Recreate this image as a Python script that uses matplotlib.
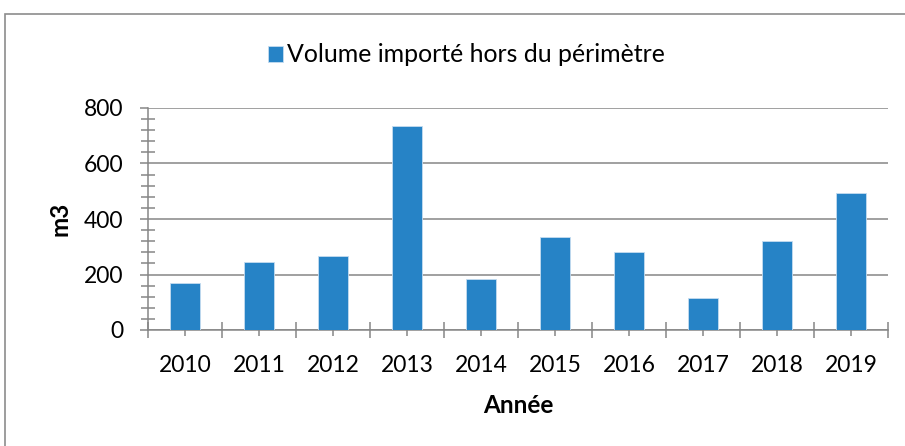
import matplotlib
matplotlib.use("Agg")
import matplotlib.pyplot as plt
from matplotlib.patches import Rectangle
from matplotlib.ticker import MultipleLocator, FixedLocator

# Chart data
years = ["2010", "2011", "2012", "2013", "2014", "2015", "2016", "2017", "2018", "2019"]
volumes = [168, 245, 267, 734, 183, 335, 282, 114, 320, 492]
series_label = "Volume importé hors du périmètre"
x_label = "Année"
y_label = "m3"

plt.rcParams["font.family"] = ["Lato", "DejaVu Sans"]
axis_grey = "#868686"
bar_blue = "#2683C6"

fig = plt.figure(figsize=(9.05, 4.46), dpi=100)
ax = fig.add_axes([148 / 905, 1 - 330 / 446, 740 / 905, 222 / 446])

x = range(len(years))
ax.bar(x, volumes, width=0.4, color=bar_blue, edgecolor="#c5dcf0", linewidth=0.6,
       label=series_label, zorder=3)

ax.set_xlim(-0.5, len(years) - 0.5)
ax.set_ylim(0, 800)

# y axis: major every 200 with gridlines, minor every 40
ax.yaxis.set_major_locator(MultipleLocator(200))
ax.yaxis.set_minor_locator(MultipleLocator(40))
ax.grid(axis="y", color=axis_grey, linewidth=1.1, zorder=0)
ax.tick_params(axis="y", which="major", direction="out", length=5.8, width=1.1,
               color=axis_grey, pad=12, labelsize=16.5)
ax.tick_params(axis="y", which="minor", direction="inout", length=10, width=1.1,
               color=axis_grey)

# x axis: labels at centres, boundary ticks between categories
ax.set_xticks(list(x))
ax.set_xticklabels(years)
ax.xaxis.set_minor_locator(FixedLocator([i - 0.5 for i in range(len(years) + 1)]))
ax.tick_params(axis="x", which="major", direction="inout", length=8.6, width=1.1,
               color=axis_grey, pad=13.5, labelsize=16.5)
ax.tick_params(axis="x", which="minor", direction="inout", length=12, width=1.1,
               color=axis_grey)

for side in ["top", "right"]:
    ax.spines[side].set_visible(False)
for side in ["left", "bottom"]:
    ax.spines[side].set_color(axis_grey)
    ax.spines[side].set_linewidth(1.1)

# axis titles placed on their baselines
ax.set_xlabel(x_label, fontsize=17.5, fontweight="bold", va="baseline")
ax.xaxis.set_label_coords(0.5, (330 - 413) / 222)
ax.set_ylabel(y_label, fontsize=17.5, fontweight="bold", va="baseline")
ax.yaxis.set_label_coords((67 - 148) / 740, 0.5)

fig.legend(loc="center left", bbox_to_anchor=(268 / 905, 1 - 55 / 446), frameon=False,
           fontsize=17.9, handlelength=0.6, handleheight=0.6, handletextpad=0.15,
           borderpad=0, borderaxespad=0)

# outer chart border (clipped at right and bottom)
fig.add_artist(Rectangle((5 / 905, -0.1), 2.0, 1.1 - 14 / 446, transform=fig.transFigure,
                         fill=False, edgecolor="#8c8c8c", linewidth=1.2))

fig.savefig("out.png", dpi=100)
